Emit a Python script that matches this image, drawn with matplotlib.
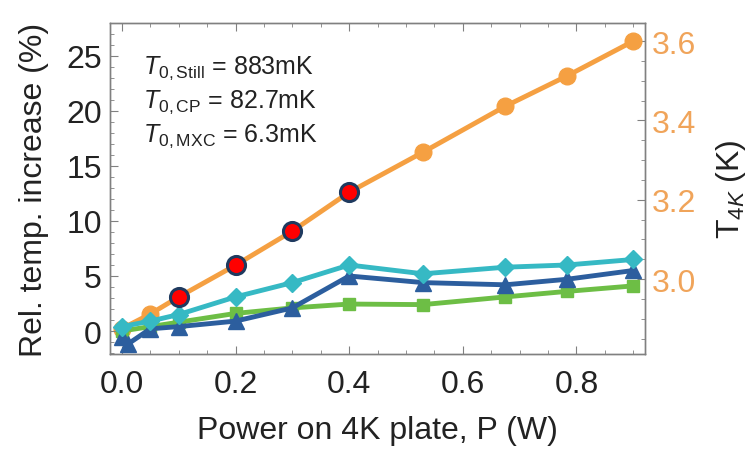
import matplotlib.pyplot as plt
import numpy as np

plt.rcParams['font.family'] = ['Liberation Sans', 'DejaVu Sans']
plt.rcParams['mathtext.fontset'] = 'custom'
plt.rcParams['mathtext.rm'] = 'Liberation Sans'
plt.rcParams['mathtext.it'] = 'Liberation Sans:italic'

# Datos
p_t4k = [0.0, 0.05, 0.1, 0.2, 0.3, 0.4, 0.53, 0.675, 0.783, 0.9]
t4k = [2.875, 2.912, 2.955, 3.035, 3.121, 3.219, 3.320, 3.436, 3.512, 3.600]

p_red = [0.1, 0.2, 0.3, 0.4]
rel_red = [3.1, 6.0, 9.1, 12.6]

p_cyan = [0.0, 0.05, 0.1, 0.2, 0.3, 0.4, 0.53, 0.675, 0.783, 0.9]
rel_cyan = [0.4, 0.9, 1.5, 3.1, 4.4, 6.0, 5.2, 5.8, 6.0, 6.5]

p_blue = [0.0, 0.01, 0.05, 0.1, 0.2, 0.3, 0.4, 0.53, 0.675, 0.783, 0.9]
rel_blue = [-0.5, -1.2, 0.2, 0.4, 0.9, 2.1, 5.0, 4.4, 4.2, 4.7, 5.5]

p_green = [0.0, 0.05, 0.1, 0.2, 0.3, 0.4, 0.53, 0.675, 0.783, 0.9]
rel_green = [0.0, 0.4, 0.8, 1.6, 2.1, 2.45, 2.4, 3.1, 3.6, 4.1]

textos = [r'$T_{0,\mathrm{Still}}$ = 883mK',
          r'$T_{0,\mathrm{CP}}$ = 82.7mK',
          r'$T_{0,\mathrm{MXC}}$ = 6.3mK']

naranja = '#F5A042'
naranja_txt = '#F0A45A'
gris = '#808080'
negro = '#222222'

fig = plt.figure(figsize=(7.51, 4.52), dpi=100)
ax = fig.add_axes([0.1465, 0.2146, 0.7125, 0.7324])
ax2 = ax.twinx()
ax2.set_zorder(ax.get_zorder() - 1)
ax.patch.set_visible(False)

# T4K en el eje derecho
ax2.plot(p_t4k, t4k, color=naranja, lw=3.5, marker='o', ms=12)

ax.plot(p_green, rel_green, color='#6DBE45', lw=3.5, marker='s', ms=8)
ax.plot(p_blue, rel_blue, color='#2C5E9E', lw=3.5, marker='^', ms=12)
ax.plot(p_cyan, rel_cyan, color='#36B9C4', lw=3.5, marker='D', ms=9)
ax.plot(p_red, rel_red, ls='none', marker='o', ms=13, mfc='#FF0000',
        mec='#1F3A5F', mew=2.2, zorder=5)

ax.set_xlim(-0.021, 0.921)
ax.set_ylim(-2.09, 28.0)
ax2.set_ylim(2.811, 3.646)

ax.set_xticks(np.arange(0, 0.81, 0.2))
ax.set_xticks(np.arange(0, 0.91, 0.05), minor=True)
ax.set_yticks(np.arange(0, 26, 5))
ax.set_yticks(np.arange(-2, 28, 1), minor=True)
ax2.set_yticks([3.0, 3.2, 3.4, 3.6])
ax2.set_yticks(np.arange(2.85, 3.65, 0.05), minor=True)

ax.xaxis.set_major_formatter(plt.FuncFormatter(lambda v, _: f'{v:.1f}'))

ax.tick_params(which='both', direction='in', top=True, color=gris,
               labelsize=23, labelcolor=negro)
ax.tick_params(axis='x', pad=11)
ax.tick_params(axis='y', pad=6, right=False)
ax.tick_params(which='major', length=6)
ax.tick_params(which='minor', length=3)
ax2.tick_params(which='both', direction='in', color=gris,
                labelsize=23, labelcolor=naranja_txt, pad=5)
ax2.tick_params(which='major', length=6)
ax2.tick_params(which='minor', length=3)

for a in (ax, ax2):
    for s in a.spines.values():
        s.set_color(gris)
        s.set_linewidth(1.0)

ax.set_xlabel('Power on 4K plate, P (W)', fontsize=23, color=negro, labelpad=11)
ax.set_ylabel('Rel. temp. increase (%)', fontsize=23, color=negro, labelpad=12)
ax2.set_ylabel(r'T$_{4K}$ (K)', fontsize=23, color=negro, labelpad=13)

for i, t in enumerate(textos):
    ax.text(0.037, 24.0 - 3.1 * i, t, fontsize=18, va='center', ha='left',
            color=negro)

plt.savefig('out.png', dpi=100)
